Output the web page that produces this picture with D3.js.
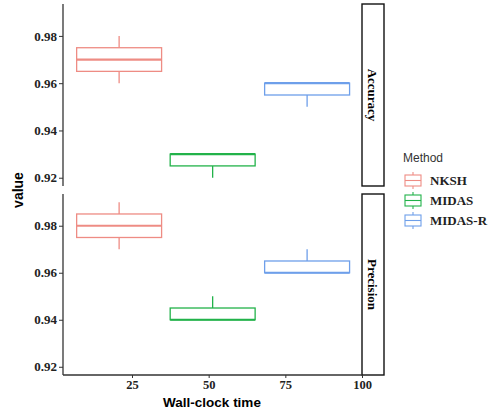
<!DOCTYPE html>
<html>
<head>
<meta charset="utf-8">
<script src="https://cdn.jsdelivr.net/npm/d3@7"></script>
<style>
  body { margin: 0; background: #fff; }
  svg { display: block; }
</style>
</head>
<body>
<svg width="500" height="413"></svg>
<script>
// data
var methods = ['NKSH', 'MIDAS', 'MIDAS-R'];
var colors = ['#EE8C84', '#22B24A', '#6E9FEA'];
var times = [20.8, 51.3, 82.1];
var boxWidth = 27.7;
var metrics = ['Accuracy', 'Precision'];
// [min, q1, median, q3, max] per method
var accuracy = [
    [0.960, 0.965, 0.970, 0.975, 0.980],
    [0.920, 0.925, 0.930, 0.930, 0.930],
    [0.950, 0.955, 0.960, 0.960, 0.960]
];
var precision = [
    [0.970, 0.975, 0.980, 0.985, 0.990],
    [0.940, 0.940, 0.940, 0.945, 0.950],
    [0.960, 0.960, 0.960, 0.965, 0.970]
];
var yTicks = [0.92, 0.94, 0.96, 0.98];
var xTicks = [25, 50, 75, 100];

var svg = d3.select('svg');
var left = 63, right = 362;
var panels = [
    { name: metrics[0], values: accuracy, top: 4, bottom: 186 },
    { name: metrics[1], values: precision, top: 194, bottom: 375 }
];

var x = d3.scaleLinear().domain([25, 100]).range([132, right]);

panels.forEach(function(p, pi) {
    var y = d3.scaleLinear().domain([0.9165, 0.9935]).range([p.bottom, p.top]);
    var g = svg.append('g');

    // boxes
    p.values.forEach(function(v, i) {
        var c = colors[i];
        var cx = x(times[i]);
        var x0 = x(times[i] - boxWidth / 2), x1 = x(times[i] + boxWidth / 2);
        var bg = g.append('g').attr('stroke', c).attr('fill', 'none').attr('stroke-width', 1.3);
        bg.append('line').attr('x1', cx).attr('x2', cx).attr('y1', y(v[4])).attr('y2', y(v[3]));
        bg.append('line').attr('x1', cx).attr('x2', cx).attr('y1', y(v[1])).attr('y2', y(v[0]));
        bg.append('rect').attr('x', x0).attr('width', x1 - x0)
            .attr('y', y(v[3])).attr('height', y(v[1]) - y(v[3]));
        bg.append('line').attr('x1', x0).attr('x2', x1).attr('y1', y(v[2])).attr('y2', y(v[2]))
            .attr('stroke-width', 2.2);
    });

    // y axis
    var ya = g.append('g').attr('transform', 'translate(' + left + ',0)')
        .call(d3.axisLeft(y).tickValues(yTicks).tickFormat(d3.format('.2f')).tickSize(4).tickPadding(2));
    ya.select('.domain').attr('stroke', '#333').attr('stroke-width', 1.3).attr('d', 'M0,' + p.top + 'V' + p.bottom);
    ya.selectAll('.tick line').attr('stroke', '#333');
    ya.selectAll('.tick text').attr('font-family', 'Liberation Serif').attr('font-weight', 'bold')
        .attr('font-size', 13).attr('fill', '#222');

    // strip
    g.append('rect').attr('x', right).attr('y', p.top).attr('width', 22).attr('height', p.bottom - p.top)
        .attr('fill', '#fff').attr('stroke', '#111').attr('stroke-width', 1.4);
    g.append('text').attr('transform', 'translate(' + (right + 11) + ',' + ((p.top + p.bottom) / 2) + ') rotate(90)')
        .attr('text-anchor', 'middle').attr('dy', '0.35em')
        .attr('font-family', 'Liberation Serif').attr('font-weight', 'bold').attr('font-size', 13)
        .text(p.name);

    if (pi === 1) {
        var xa = g.append('g').attr('transform', 'translate(0,' + p.bottom + ')')
            .call(d3.axisBottom(x).tickValues(xTicks).tickSize(3).tickPadding(2));
        xa.select('.domain').attr('stroke', '#333').attr('stroke-width', 1.3).attr('d', 'M' + left + ',0H' + right);
        xa.selectAll('.tick line').attr('stroke', '#333');
        xa.selectAll('.tick text').attr('font-family', 'Liberation Serif').attr('font-weight', 'bold')
            .attr('font-size', 12.5).attr('fill', '#222');
    }
});

// axis titles
svg.append('text').attr('x', 212).attr('y', 407).attr('text-anchor', 'middle')
    .attr('font-family', 'Liberation Sans').attr('font-weight', 'bold').attr('font-size', 13.5)
    .text('Wall-clock time');
svg.append('text').attr('transform', 'translate(23,190) rotate(-90)').attr('text-anchor', 'middle')
    .attr('font-family', 'Liberation Sans').attr('font-weight', 'bold').attr('font-size', 14)
    .text('value');

// legend
var lg = svg.append('g').attr('transform', 'translate(403,0)');
lg.append('text').attr('x', 0).attr('y', 162).attr('font-family', 'Liberation Sans')
    .attr('font-size', 12).attr('fill', '#333').text('Method');
methods.forEach(function(m, i) {
    var ky = 172 + i * 20;
    var k = lg.append('g').attr('stroke', colors[i]).attr('fill', 'none').attr('stroke-width', 1.1);
    k.append('line').attr('x1', 10).attr('x2', 10).attr('y1', ky).attr('y2', ky + 17);
    k.append('rect').attr('x', 2).attr('y', ky + 3).attr('width', 16).attr('height', 11).attr('fill', '#fff');
    k.append('line').attr('x1', 2).attr('x2', 18).attr('y1', ky + 8.5).attr('y2', ky + 8.5);
    lg.append('text').attr('x', 27).attr('y', ky + 13).attr('font-family', 'Liberation Serif')
        .attr('font-weight', 'bold').attr('font-size', 13).attr('fill', '#222').text(m);
});
</script>
</body>
</html>
